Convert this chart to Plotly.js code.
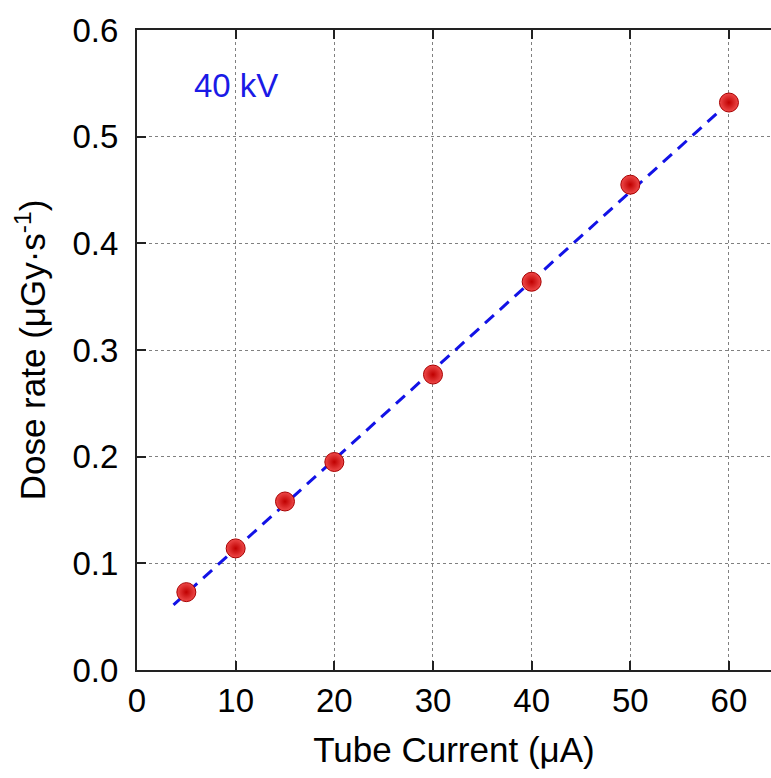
<!DOCTYPE html>
<html>
<head>
<meta charset="utf-8">
<script src="https://cdn.plot.ly/plotly-3.0.1.min.js"></script>
<style>html,body{margin:0;padding:0;background:#fff;overflow:hidden}#chart{width:771px;height:778px}</style>
</head>
<body>
<div id="chart"></div>
<script>
// Data
const tubeCurrent = [5, 10, 15, 20, 30, 40, 50, 60];
const doseRate = [0.073, 0.114, 0.158, 0.195, 0.277, 0.364, 0.455, 0.532];
const fitX = [3.7, 60];
const fitY = [0.061, 0.532];
const xTicks = [0, 10, 20, 30, 40, 50, 60];
const yTicks = [0.0, 0.1, 0.2, 0.3, 0.4, 0.5, 0.6];
const labelText = "40 kV";

const font = "Arial, 'Liberation Sans', sans-serif";

const traces = [
  {
    x: fitX, y: fitY, mode: "lines", type: "scatter",
    line: {color: "#1212e6", width: 3, dash: "12px,8px"},
    hoverinfo: "skip", showlegend: false
  },
  {
    x: tubeCurrent, y: doseRate, mode: "markers", type: "scatter",
    marker: {
      size: 19, color: "#ee4a4a",
      gradient: {type: "radial", color: "#c00000"},
      line: {color: "#a80000", width: 1}
    },
    showlegend: false
  }
];

const layout = {
  width: 771, height: 778,
  margin: {l: 137, r: 0, t: 30, b: 108},
  paper_bgcolor: "#fff", plot_bgcolor: "#fff",
  font: {family: font, color: "#000", size: 32},
  xaxis: {
    range: [0, 64.26],
    tickvals: xTicks, ticktext: xTicks.map(String),
    ticks: "inside", ticklen: 9, tickwidth: 2, tickcolor: "#222",
    showline: true, linecolor: "#222", linewidth: 2, mirror: "ticks",
    showgrid: true, gridcolor: "#808080", griddash: "3px,3px", gridwidth: 1,
    zeroline: false,
    tickfont: {size: 33, family: font},
    ticklabelstandoff: 0,
    title: {text: "Tube Current (\u03bcA)", font: {size: 35, family: font}, standoff: 20},
    automargin: false
  },
  yaxis: {
    range: [0, 0.6],
    tickvals: yTicks, ticktext: yTicks.map(v => v.toFixed(1)),
    ticks: "inside", ticklen: 9, tickwidth: 2, tickcolor: "#222",
    showline: true, linecolor: "#222", linewidth: 2, mirror: false,
    showgrid: true, gridcolor: "#808080", griddash: "3px,3px", gridwidth: 1,
    zeroline: false,
    tickfont: {size: 33, family: font},
    ticklabelstandoff: 10,
    title: {text: "Dose rate (\u03bcGy\u00b7s<sup>-1</sup>)", font: {size: 35, family: font}, standoff: 16},
    automargin: false
  },
  annotations: [{
    x: 10.03, y: 0.548, xref: "x", yref: "y",
    text: labelText, showarrow: false,
    font: {size: 33, color: "#1a1ae6", family: font}
  }]
};

Plotly.newPlot("chart", traces, layout, {displayModeBar: false, staticPlot: true});
</script>
</body>
</html>
